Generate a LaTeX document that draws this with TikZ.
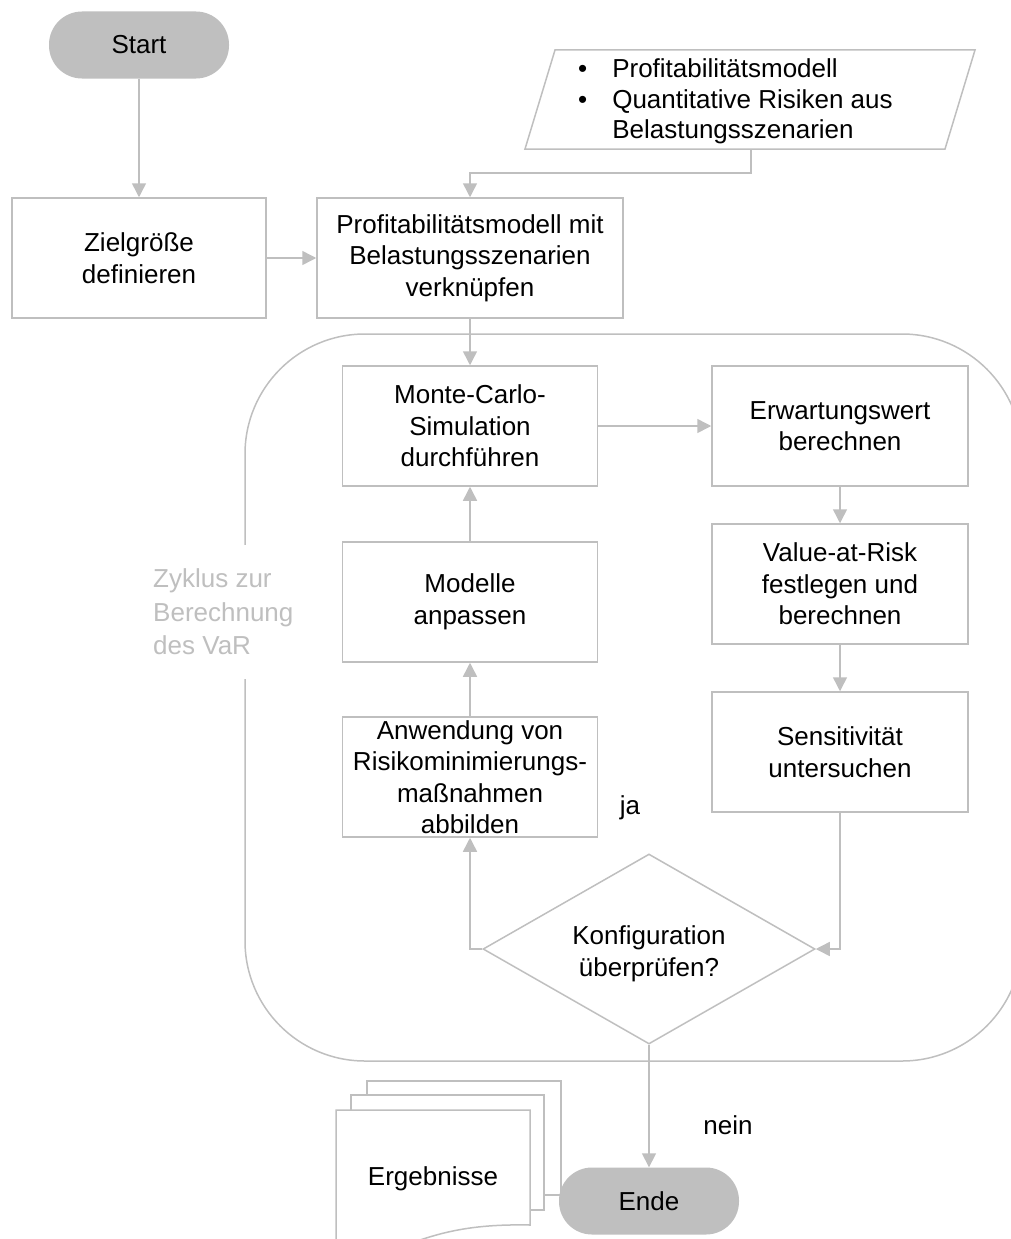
\documentclass[tikz,border=0pt]{standalone}
\usepackage{fontspec}
\setmainfont{Liberation Sans}
\usetikzlibrary{arrows.meta,shapes.geometric}
\definecolor{linegray}{HTML}{BFBFBF}
\definecolor{termgray}{HTML}{BFBFBF}

\begin{document}
\begin{tikzpicture}[x=1pt,y=-1pt,
  every node/.style={font=\fontsize{26}{31.5}\selectfont, text=black},
  box/.style={draw=linegray, line width=1.5pt, fill=white, align=center,
    inner sep=0pt, minimum height=120pt},
  term/.style={fill=termgray, rounded corners=33pt, inner sep=0pt,
    minimum width=180pt, minimum height=67pt},
  frame/.style={draw=linegray, line width=1.5pt},
  arr/.style={draw=linegray, line width=1.5pt, -{Triangle[length=14pt,width=14pt]}}]

\useasboundingbox (0,0) rectangle (1010,1239);

% cycle frame with its caption interrupting the left edge
\draw[frame, rounded corners=120pt] (245,334) rectangle (1022,1061);
\node[text=linegray, fill=white, inner xsep=5pt, inner ysep=24pt, align=left, anchor=west,
  font=\fontsize{26}{33.5}\selectfont]
  (cycle) at (148,612) {Zyklus zur\\Berechnung\\des VaR};

% input data (parallelogram)
\draw[frame] (555,50) -- (975,50) -- (945,149) -- (525,149) -- cycle;
\node[anchor=west, inner sep=0pt, font=\fontsize{26}{30.5}\selectfont] (inptext) at (578,102)
  {\begin{tabular}{@{}l@{\hspace{25pt}}l@{}}
   \textbullet & Profitabilitätsmodell\\
   \textbullet & Quantitative Risiken aus\\
               & Belastungsszenarien
   \end{tabular}};
\coordinate (inp) at (751,149);
\coordinate (bend) at (751,173);

% result documents
\draw[frame, fill=white] (367,1081) rectangle (561,1195);
\draw[frame, fill=white] (351,1095) rectangle (544,1210);
\draw[frame, fill=white] (336,1270) -- (336,1110) -- (530,1110) -- (530,1225)
  .. controls (480,1224) and (450,1230) .. (420,1240)
  .. controls (390,1250) and (360,1270) .. (336,1270) -- cycle;
\node (erg) at (433,1179) {Ergebnisse};

% process steps
\node[term] (start) at (139,45) {Start};
\node[box, minimum width=254pt] (ziel) at (139,258) {Zielgröße\\definieren};
\node[box, minimum width=306pt] (prof) at (470,258)
  {Profitabilitätsmodell mit\\Belastungsszenarien\\verknüpfen};
\node[box, minimum width=255pt] (mc) at (470,426) {Monte-Carlo-\\Simulation\\durchführen};
\node[box, minimum width=256pt] (ew) at (840,426) {Erwartungswert\\berechnen};
\node[box, minimum width=256pt] (var) at (840,584) {Value-at-Risk\\festlegen und\\berechnen};
\node[box, minimum width=256pt] (sens) at (840,752) {Sensitivität\\untersuchen};
\node[box, minimum width=255pt] (mod) at (470,602) {Modelle\\anpassen};
\node[box, minimum width=255pt] (anw) at (470,777)
  {Anwendung von\\Risikominimierungs-\\maßnahmen\\abbilden};
\node[diamond, aspect=1.75, draw=linegray, line width=1.5pt, fill=white,
  inner sep=0pt, minimum width=332pt, minimum height=190pt] (dia) at (649,949) {};
\node[align=center] (diatext) at (649,954) {Konfiguration\\überprüfen?};
\node[term] (ende) at (649,1201) {Ende};

\node (ja) at (630,808) {ja};
\node (nein) at (728,1125) {nein};

% connectors
\draw[arr] (start) -- (ziel);
\draw[arr] (ziel) -- (prof);
\draw[arr] (inp) -- (bend) -| (prof.north);
\draw[arr] (prof) -- (mc);
\draw[arr] (mc) -- (ew);
\draw[arr] (ew) -- (var);
\draw[arr] (var) -- (sens);
\draw[arr] (sens.south) |- (dia.east);
\draw[arr] (dia.west) -| (anw.south);
\draw[arr] (anw) -- (mod);
\draw[arr] (mod) -- (mc);
\draw[arr] (dia.south) -- (ende.north);
\end{tikzpicture}
\end{document}
